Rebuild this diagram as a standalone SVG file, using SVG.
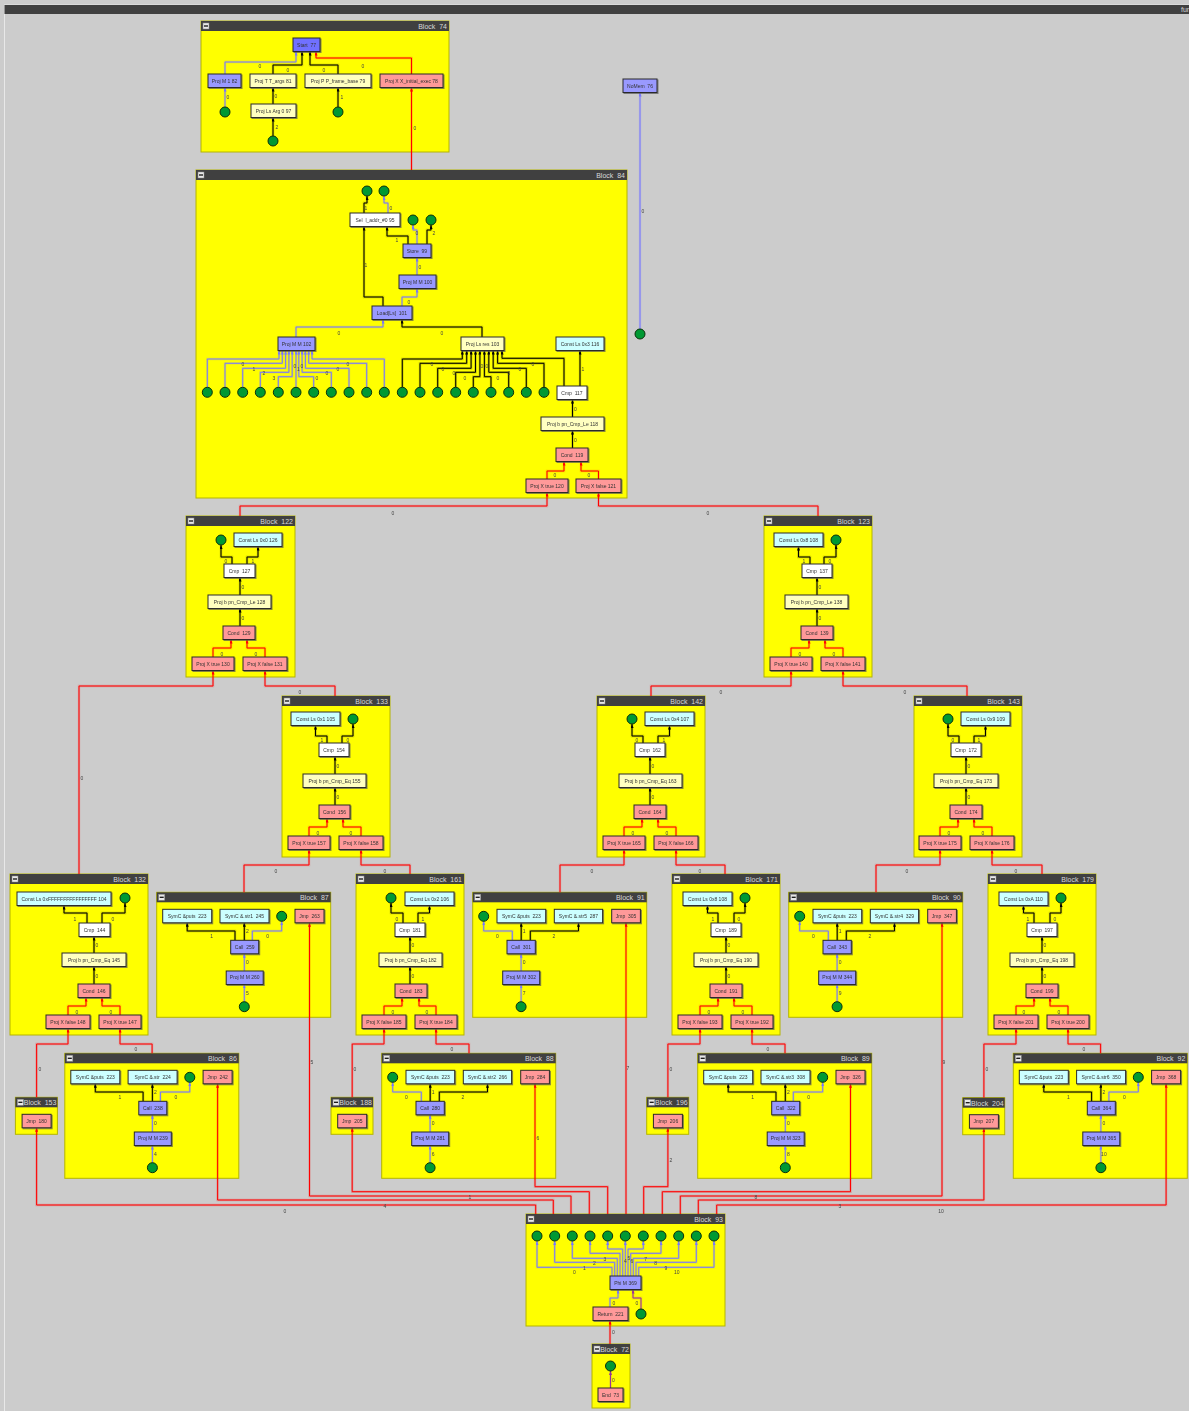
<svg xmlns="http://www.w3.org/2000/svg" width="1189" height="1411" viewBox="0 0 1189 1411">
<style>
text{font-family:"Liberation Sans",Arial,sans-serif;white-space:pre}
.blk{fill:#ffff00;stroke:#b4b400;stroke-width:1}
.tb{fill:#404040}
.bt{font-size:7px;fill:#d8d8d8;text-anchor:end}
.n rect{stroke:#2a2a2a;stroke-width:1;filter:url(#ns)}
.n text{font-size:5px;fill:#333;text-anchor:middle}
.bl{fill:#9999ff}.st{fill:#6f6fff}.pk{fill:#ff9999}.ly{fill:#ffffc0}.cy{fill:#ccffff}.wh{fill:#ffffff}
.c{fill:#009933;stroke:#0a300a;stroke-width:1}
#edges path{fill:none}
.k{stroke:#000;marker-end:url(#ak)}
.u{stroke:#7777ff;marker-end:url(#au)}
.r{stroke:#ff0000;marker-end:url(#ar)}
.p{stroke:#993399;marker-end:url(#ap)}
.lb text{font-size:5px;fill:#444;text-anchor:middle}
</style>
<defs>
<filter id="ns" x="-10%" y="-20%" width="130%" height="160%"><feDropShadow dx="1" dy="1" stdDeviation="0.2" flood-color="#555" flood-opacity="0.7"/></filter>
<marker id="ak" viewBox="0 0 8 6" refX="8" refY="3" markerWidth="4" markerHeight="3" markerUnits="userSpaceOnUse" orient="auto"><path d="M0,0L8,3L0,6z" fill="#000"/></marker>
<marker id="au" viewBox="0 0 8 6" refX="8" refY="3" markerWidth="4" markerHeight="3" markerUnits="userSpaceOnUse" orient="auto"><path d="M0,0L8,3L0,6z" fill="#7777ff"/></marker>
<marker id="ar" viewBox="0 0 8 6" refX="8" refY="3" markerWidth="4" markerHeight="3" markerUnits="userSpaceOnUse" orient="auto"><path d="M0,0L8,3L0,6z" fill="#ff0000"/></marker>
<marker id="ap" viewBox="0 0 8 6" refX="8" refY="3" markerWidth="4" markerHeight="3" markerUnits="userSpaceOnUse" orient="auto"><path d="M0,0L8,3L0,6z" fill="#993399"/></marker>
<g id="ico"><rect x="2" y="2" width="6" height="6" fill="#e8e8e8" stroke="#888" stroke-width="0.5"/><path d="M3,5H7" stroke="#111" stroke-width="1.3"/></g>
</defs>

<rect width="1189" height="1411" fill="#cccccc"/>
<rect x="4.5" y="5" width="1190" height="1410" fill="#cccccc" stroke="#e8e8e8" stroke-width="1"/>
<rect x="4.5" y="5" width="1190" height="9" fill="#404040"/>
<text x="1181" y="12" style="font-size:7px;fill:#d8d8d8">fun</text>

<g id="blocks">
<g id="block74" transform="translate(201,21)"><rect class="blk" width="248" height="131"/><rect class="tb" width="248" height="10"/><use href="#ico"/><text class="bt" x="246" y="8">Block  74</text></g>
<g id="block84" transform="translate(196,170)"><rect class="blk" width="431" height="328"/><rect class="tb" width="431" height="10"/><use href="#ico"/><text class="bt" x="429" y="8">Block  84</text></g>
<g id="block122" transform="translate(186,516)"><rect class="blk" width="109" height="161"/><rect class="tb" width="109" height="10"/><use href="#ico"/><text class="bt" x="107" y="8">Block  122</text></g>
<g id="block123" transform="translate(764,516)"><rect class="blk" width="108" height="161"/><rect class="tb" width="108" height="10"/><use href="#ico"/><text class="bt" x="106" y="8">Block  123</text></g>
<g id="block133" transform="translate(282,696)"><rect class="blk" width="108" height="161"/><rect class="tb" width="108" height="10"/><use href="#ico"/><text class="bt" x="106" y="8">Block  133</text></g>
<g id="block142" transform="translate(597,696)"><rect class="blk" width="108" height="161"/><rect class="tb" width="108" height="10"/><use href="#ico"/><text class="bt" x="106" y="8">Block  142</text></g>
<g id="block143" transform="translate(914,696)"><rect class="blk" width="108" height="161"/><rect class="tb" width="108" height="10"/><use href="#ico"/><text class="bt" x="106" y="8">Block  143</text></g>
<g id="block132" transform="translate(10,874)"><rect class="blk" width="138" height="161"/><rect class="tb" width="138" height="10"/><use href="#ico"/><text class="bt" x="136" y="8">Block  132</text></g>
<g id="block161" transform="translate(356,874)"><rect class="blk" width="108" height="161"/><rect class="tb" width="108" height="10"/><use href="#ico"/><text class="bt" x="106" y="8">Block  161</text></g>
<g id="block171" transform="translate(672,874)"><rect class="blk" width="108" height="161"/><rect class="tb" width="108" height="10"/><use href="#ico"/><text class="bt" x="106" y="8">Block  171</text></g>
<g id="block179" transform="translate(988,874)"><rect class="blk" width="108" height="161"/><rect class="tb" width="108" height="10"/><use href="#ico"/><text class="bt" x="106" y="8">Block  179</text></g>
<g id="block87" transform="translate(156.7,892.3)"><rect class="blk" width="174" height="125"/><rect class="tb" width="174" height="10"/><use href="#ico"/><text class="bt" x="172" y="8">Block  87</text></g>
<g id="block91" transform="translate(472.7,892.3)"><rect class="blk" width="174" height="125"/><rect class="tb" width="174" height="10"/><use href="#ico"/><text class="bt" x="172" y="8">Block  91</text></g>
<g id="block90" transform="translate(788.7,892.3)"><rect class="blk" width="174" height="125"/><rect class="tb" width="174" height="10"/><use href="#ico"/><text class="bt" x="172" y="8">Block  90</text></g>
<g id="block86" transform="translate(64.8,1053.3)"><rect class="blk" width="174" height="125"/><rect class="tb" width="174" height="10"/><use href="#ico"/><text class="bt" x="172" y="8">Block  86</text></g>
<g id="block88" transform="translate(381.7,1053.3)"><rect class="blk" width="174" height="125"/><rect class="tb" width="174" height="10"/><use href="#ico"/><text class="bt" x="172" y="8">Block  88</text></g>
<g id="block89" transform="translate(697.7,1053.3)"><rect class="blk" width="174" height="125"/><rect class="tb" width="174" height="10"/><use href="#ico"/><text class="bt" x="172" y="8">Block  89</text></g>
<g id="block92" transform="translate(1013.3,1053.3)"><rect class="blk" width="174" height="125"/><rect class="tb" width="174" height="10"/><use href="#ico"/><text class="bt" x="172" y="8">Block  92</text></g>
<g id="block153" transform="translate(15.4,1097.3)"><rect class="blk" width="42" height="37"/><rect class="tb" width="42" height="10"/><use href="#ico"/><text class="bt" x="41" y="8">Block  153</text></g>
<g id="block188" transform="translate(331,1097.3)"><rect class="blk" width="42" height="37"/><rect class="tb" width="42" height="10"/><use href="#ico"/><text class="bt" x="41" y="8">Block  188</text></g>
<g id="block196" transform="translate(646.7,1097.3)"><rect class="blk" width="42" height="37"/><rect class="tb" width="42" height="10"/><use href="#ico"/><text class="bt" x="41" y="8">Block  196</text></g>
<g id="block204" transform="translate(962.7,1097.7)"><rect class="blk" width="42" height="37"/><rect class="tb" width="42" height="10"/><use href="#ico"/><text class="bt" x="41" y="8">Block  204</text></g>
<g id="block93" transform="translate(526,1214)"><rect class="blk" width="199" height="112"/><rect class="tb" width="199" height="10"/><use href="#ico"/><text class="bt" x="197" y="8">Block  93</text></g>
<g id="block72" transform="translate(592,1344)"><rect class="blk" width="38" height="64"/><rect class="tb" width="38" height="10"/><use href="#ico"/><text class="bt" x="37" y="8">Block  72</text></g>
</g>

<use href="#edges" stroke-width="2.4" opacity="0.22"/>
<g stroke-width="1">
<g id="edges">
<path class="u" d="M225,74V62H296V51.5"/>
<path class="k" d="M273,74V65H302V51.5"/>
<path class="k" d="M338,74V65H310V51.5"/>
<path class="r" d="M411.5,74V58H316V51.5"/>
<path class="u" d="M225,107V87.5"/>
<path class="k" d="M273,104V87.5"/>
<path class="k" d="M338,107V87.5"/>
<path class="k" d="M273,136V117.5"/>
<path class="r" d="M411.5,170V87.5"/>
<path class="u" d="M640,329V92.5"/>
<path class="k" d="M364,213V203H367V196"/>
<path class="u" d="M388,213V203H384V196"/>
<path class="u" d="M417,244V230H413V225"/>
<path class="k" d="M427,244V230H431V225"/>
<path class="k" d="M408,244V236H387V226.5"/>
<path class="u" d="M417,275V257.5"/>
<path class="k" d="M383,306V297H364V226.5"/>
<path class="u" d="M402,306V297H417V288.5"/>
<path class="u" d="M296,337V327H383V319.5"/>
<path class="k" d="M482,337V327H402V319.5"/>
<path class="k" d="M580,386V350.5"/>
<path class="k" d="M564,386V358.3H502V350.5"/>
<path class="k" d="M572.5,417V399.5"/>
<path class="k" d="M572.5,448V430.5"/>
<path class="r" d="M547,479V471H564V461.5"/>
<path class="r" d="M598.5,479V471H581V461.5"/>
<path class="u" d="M207.3,387.3V359H279V350.5"/>
<path class="u" d="M225,387.3V363.3H282.3V350.5"/>
<path class="u" d="M242.7,387.3V368.3H285.6V350.5"/>
<path class="u" d="M260.3,387.3V372.3H288.9V350.5"/>
<path class="u" d="M278.3,387.3V376.7H292.2V350.5"/>
<path class="u" d="M296,387.3V350.5"/>
<path class="u" d="M313.7,387.3V376.7H298.8V350.5"/>
<path class="u" d="M331.3,387.3V372.3H302.1V350.5"/>
<path class="u" d="M349,387.3V368.3H305.4V350.5"/>
<path class="u" d="M366.7,387.3V363.3H308.7V350.5"/>
<path class="u" d="M384.3,387.3V359H312V350.5"/>
<path class="k" d="M402.3,387.3V359H462.3V350.5"/>
<path class="k" d="M420,387.3V363.3H466.7V350.5"/>
<path class="k" d="M437.7,387.3V368.3H471.1V350.5"/>
<path class="k" d="M455.7,387.3V372.3H475.5V350.5"/>
<path class="k" d="M473.3,387.3V376.7H479.9V350.5"/>
<path class="k" d="M491,387.3V376.7H484.4V350.5"/>
<path class="k" d="M508.7,387.3V372.3H488.8V350.5"/>
<path class="k" d="M526.3,387.3V368.3H493.2V350.5"/>
<path class="k" d="M544,387.3V363.3H497.6V350.5"/>
<path class="r" d="M240,516V506H547V492.5"/>
<path class="r" d="M818,516V506H598.5V492.5"/>
<path class="k" d="M232,564V557H221V545"/>
<path class="k" d="M247,564V557H258V546.5"/>
<path class="k" d="M240,595V577.5"/>
<path class="k" d="M240,626V608.5"/>
<path class="r" d="M213,657V648H231V639.5"/>
<path class="r" d="M265,657V648H247V639.5"/>
<path class="k" d="M810,564V557H798.5V546.5"/>
<path class="k" d="M824,564V557H836V545"/>
<path class="k" d="M817,595V577.5"/>
<path class="k" d="M817,626V608.5"/>
<path class="r" d="M791,657V648H809V639.5"/>
<path class="r" d="M843,657V648H825V639.5"/>
<path class="r" d="M79,874V686H213V670.5"/>
<path class="r" d="M335,696V686H265V670.5"/>
<path class="r" d="M651,696V686H791V670.5"/>
<path class="r" d="M967,696V686H843V670.5"/>
<path class="k" d="M327,743V736H315.5V725.5"/>
<path class="k" d="M342,743V736H353V724"/>
<path class="k" d="M335,774V756.5"/>
<path class="k" d="M335,805V787.5"/>
<path class="r" d="M309,836V827H327V818.5"/>
<path class="r" d="M361,836V827H343V818.5"/>
<path class="k" d="M643,743V736H632V724"/>
<path class="k" d="M658,743V736H669.5V725.5"/>
<path class="k" d="M650,774V756.5"/>
<path class="k" d="M650,805V787.5"/>
<path class="r" d="M624,836V827H642V818.5"/>
<path class="r" d="M676,836V827H658V818.5"/>
<path class="k" d="M959,743V736H948V724"/>
<path class="k" d="M974,743V736H985.5V725.5"/>
<path class="k" d="M966,774V756.5"/>
<path class="k" d="M966,805V787.5"/>
<path class="r" d="M940,836V827H958V818.5"/>
<path class="r" d="M992,836V827H974V818.5"/>
<path class="r" d="M244,892.3V865H309V849.5"/>
<path class="r" d="M410,874V865H361V849.5"/>
<path class="r" d="M560,892.3V865H624V849.5"/>
<path class="r" d="M725,874V865H676V849.5"/>
<path class="r" d="M876,892.3V865H940V849.5"/>
<path class="r" d="M1042,874V865H992V849.5"/>
<path class="k" d="M87,923V913H64V905.5"/>
<path class="k" d="M102,923V913H125V903"/>
<path class="k" d="M94,953V936.5"/>
<path class="k" d="M94,984V966.5"/>
<path class="r" d="M68,1015V1006H86V997.5"/>
<path class="r" d="M120,1015V1006H102V997.5"/>
<path class="k" d="M403,923V913H391V903"/>
<path class="k" d="M418,923V913H429.5V905.5"/>
<path class="k" d="M410,953V936.5"/>
<path class="k" d="M410,984V966.5"/>
<path class="r" d="M384,1015V1006H402V997.5"/>
<path class="r" d="M436,1015V1006H419V997.5"/>
<path class="k" d="M718,923V913H707.5V905.5"/>
<path class="k" d="M734,923V913H745V903"/>
<path class="k" d="M726,953V936.5"/>
<path class="k" d="M726,984V966.5"/>
<path class="r" d="M700,1015V1006H718V997.5"/>
<path class="r" d="M752,1015V1006H734V997.5"/>
<path class="k" d="M1034,923V913H1023.5V905.5"/>
<path class="k" d="M1050,923V913H1061V903"/>
<path class="k" d="M1042,953V936.5"/>
<path class="k" d="M1042,984V966.5"/>
<path class="r" d="M1016,1015V1006H1034V997.5"/>
<path class="r" d="M1068,1015V1006H1050V997.5"/>
<path class="r" d="M36.6,1097.3V1044H68V1028.5"/>
<path class="r" d="M152.1,1053.3V1044H120V1028.5"/>
<path class="r" d="M352.2,1097.3V1044H384V1028.5"/>
<path class="r" d="M469,1053.3V1044H436V1028.5"/>
<path class="r" d="M667.9,1097.3V1044H700V1028.5"/>
<path class="r" d="M785,1053.3V1044H752V1028.5"/>
<path class="r" d="M983.9,1097.7V1044H1016V1028.5"/>
<path class="r" d="M1100.6,1053.3V1044H1068V1028.5"/>
<g transform="translate(156.7,892.3)"><path class="k" d="M78.3,48V38.7H30.5V30.5"/><path class="k" d="M87.6,48V30.5"/><path class="u" d="M95.6,48V38.7H125V29"/><path class="u" d="M87.6,78.7V61.5"/><path class="u" d="M87.6,109.4V92.2"/></g>
<g transform="translate(64.8,1053.3)"><path class="k" d="M78.3,48V38.7H30.5V30.5"/><path class="k" d="M87.6,48V30.5"/><path class="u" d="M95.6,48V38.7H125V29"/><path class="u" d="M87.6,78.7V61.5"/><path class="u" d="M87.6,109.4V92.2"/></g>
<g transform="translate(697.7,1053.3)"><path class="k" d="M78.3,48V38.7H30.5V30.5"/><path class="k" d="M87.6,48V30.5"/><path class="u" d="M95.6,48V38.7H125V29"/><path class="u" d="M87.6,78.7V61.5"/><path class="u" d="M87.6,109.4V92.2"/></g>
<g transform="translate(1013.3,1053.3)"><path class="k" d="M78.3,48V38.7H30.5V30.5"/><path class="k" d="M87.6,48V30.5"/><path class="u" d="M95.6,48V38.7H125V29"/><path class="u" d="M87.6,78.7V61.5"/><path class="u" d="M87.6,109.4V92.2"/></g>
<g transform="translate(472.7,892.3)"><path class="u" d="M39.6,48V38.7H11V29"/><path class="k" d="M48.5,48V30.5"/><path class="k" d="M57.6,48V38.7H105.8V30.5"/><path class="u" d="M48.4,78.7V61.5"/><path class="u" d="M48.4,109.4V92.2"/></g>
<g transform="translate(788.7,892.3)"><path class="u" d="M39.6,48V38.7H11V29"/><path class="k" d="M48.5,48V30.5"/><path class="k" d="M57.6,48V38.7H105.8V30.5"/><path class="u" d="M48.4,78.7V61.5"/><path class="u" d="M48.4,109.4V92.2"/></g>
<g transform="translate(381.7,1053.3)"><path class="u" d="M39.6,48V38.7H11V29"/><path class="k" d="M48.5,48V30.5"/><path class="k" d="M57.6,48V38.7H105.8V30.5"/><path class="u" d="M48.4,78.7V61.5"/><path class="u" d="M48.4,109.4V92.2"/></g>
<path class="r" d="M535.7,1214V1205H36.6V1127.8"/>
<path class="r" d="M553.3,1214V1200H217.6V1083.8"/>
<path class="r" d="M571,1214V1196H309.5V922.8"/>
<path class="r" d="M589.3,1214V1191.7H352.2V1127.8"/>
<path class="r" d="M607.7,1214V1186.7H535V1083.8"/>
<path class="r" d="M626,1214V922.8"/>
<path class="r" d="M643.7,1214V1186.7H667.9V1127.8"/>
<path class="r" d="M662.3,1214V1191.7H850.5V1083.8"/>
<path class="r" d="M680.3,1214V1196H942V922.8"/>
<path class="r" d="M698.3,1214V1200H983.9V1128.2"/>
<path class="r" d="M716.7,1214V1205H1166.1V1083.8"/>
<path class="u" d="M612,1276V1267.3H537V1241"/>
<path class="u" d="M614.7,1276V1262.3H554.7V1241"/>
<path class="u" d="M617.3,1276V1258.3H572.3V1241"/>
<path class="u" d="M620,1276V1253.3H590V1241"/>
<path class="u" d="M622.7,1276V1249H607.7V1241"/>
<path class="u" d="M625.3,1276V1241"/>
<path class="u" d="M628,1276V1249H643.3V1241"/>
<path class="u" d="M630.7,1276V1253.3H661V1241"/>
<path class="u" d="M633.3,1276V1258.3H678.7V1241"/>
<path class="u" d="M636,1276V1262.3H696.3V1241"/>
<path class="u" d="M638.7,1276V1267.3H714V1241"/>
<path class="u" d="M610,1307V1298H618V1289.5"/>
<path class="p" d="M641,1309V1298H633V1289.5"/>
<path class="r" d="M610,1344V1320.5"/>
<path class="p" d="M610.5,1388V1371"/>
</g>
</g>

<g id="edge-labels" class="lb">
<text x="260" y="68">0</text><text x="288" y="72">0</text><text x="324" y="72">0</text><text x="363" y="68">0</text>
<text x="228" y="99">0</text><text x="276" y="98">0</text><text x="342" y="99">1</text><text x="277" y="129">2</text><text x="415" y="130">0</text>
<text x="643" y="213">0</text>
<text x="366" y="210">1</text><text x="391" y="210">0</text><text x="417" y="235">0</text><text x="434" y="235">2</text><text x="397" y="242">1</text>
<text x="420" y="269">0</text><text x="366" y="267">1</text><text x="409" y="304">0</text><text x="339" y="335">0</text><text x="442" y="335">0</text>
<text x="583" y="371">1</text><text x="575.5" y="411">0</text><text x="575.5" y="442">0</text><text x="555" y="477">0</text><text x="589" y="477">0</text>
<text x="243" y="366">0</text><text x="254" y="371">1</text><text x="264" y="375">2</text><text x="274" y="380">3</text><text x="295" y="368">0</text><text x="302" y="368">0</text><text x="298.5" y="371">1</text><text x="317" y="380">0</text><text x="327" y="375">0</text><text x="338" y="371">0</text><text x="348" y="366">0</text>
<text x="432" y="366">0</text><text x="443" y="371">0</text><text x="454" y="375">0</text><text x="465" y="380">0</text><text x="482" y="368">0</text><text x="487" y="368">0</text><text x="498" y="380">0</text><text x="509" y="375">0</text><text x="520" y="371">0</text><text x="533" y="366">0</text>
<text x="393" y="515">0</text><text x="708" y="515">0</text>
<text x="226" y="563">0</text><text x="253" y="563">1</text><text x="243" y="589">0</text><text x="243" y="620">0</text><text x="222" y="656">0</text><text x="256" y="656">0</text>
<text x="804" y="563">1</text><text x="830" y="563">0</text><text x="820" y="589">0</text><text x="820" y="620">0</text><text x="800" y="656">0</text><text x="834" y="656">0</text>
<text x="82" y="780">0</text><text x="300" y="694">0</text><text x="721" y="694">0</text><text x="905" y="694">0</text>
<text x="322" y="742">1</text><text x="348" y="742">0</text><text x="338" y="768">0</text><text x="338" y="799">0</text><text x="318" y="835">0</text><text x="351" y="835">0</text>
<text x="637" y="742">0</text><text x="664" y="742">1</text><text x="653" y="768">0</text><text x="653" y="799">0</text><text x="633" y="835">0</text><text x="667" y="835">0</text>
<text x="953" y="742">0</text><text x="979" y="742">1</text><text x="969" y="768">0</text><text x="969" y="799">0</text><text x="949" y="835">0</text><text x="983" y="835">0</text>
<text x="276" y="873">0</text><text x="385" y="873">0</text><text x="592" y="873">0</text><text x="700" y="873">0</text><text x="907" y="873">0</text><text x="1016" y="873">0</text>
<text x="75" y="921">1</text><text x="113" y="921">0</text><text x="97" y="947">0</text><text x="97" y="978">0</text><text x="77" y="1014">0</text><text x="111" y="1014">0</text>
<text x="397" y="921">0</text><text x="423" y="921">1</text><text x="413" y="947">0</text><text x="413" y="978">0</text><text x="393" y="1014">0</text><text x="427" y="1014">0</text>
<text x="713" y="921">1</text><text x="739" y="921">0</text><text x="729" y="947">0</text><text x="729" y="978">0</text><text x="709" y="1014">0</text><text x="743" y="1014">0</text>
<text x="1028" y="921">1</text><text x="1055" y="921">0</text><text x="1045" y="947">0</text><text x="1045" y="978">0</text><text x="1024" y="1014">0</text><text x="1059" y="1014">0</text>
<text x="40" y="1071">0</text><text x="136" y="1051">0</text><text x="355" y="1071">0</text><text x="452" y="1051">0</text><text x="671" y="1071">0</text><text x="768" y="1051">0</text><text x="987" y="1071">0</text><text x="1084" y="1051">0</text>
<g transform="translate(156.7,892.3)"><text x="55" y="45.4">1</text><text x="90.6" y="40.7">2</text><text x="111" y="45.4">0</text><text x="90.6" y="71.4">0</text><text x="90.6" y="102.4">5</text></g>
<g transform="translate(64.8,1053.3)"><text x="55" y="45.4">1</text><text x="90.6" y="40.7">2</text><text x="111" y="45.4">0</text><text x="90.6" y="71.4">0</text><text x="90.6" y="102.4">4</text></g>
<g transform="translate(697.7,1053.3)"><text x="55" y="45.4">1</text><text x="90.6" y="40.7">2</text><text x="111" y="45.4">0</text><text x="90.6" y="71.4">0</text><text x="90.6" y="102.4">8</text></g>
<g transform="translate(1013.3,1053.3)"><text x="55" y="45.4">1</text><text x="90.6" y="40.7">2</text><text x="111" y="45.4">0</text><text x="90.6" y="71.4">0</text><text x="90.6" y="102.4">10</text></g>
<g transform="translate(472.7,892.3)"><text x="24.6" y="45.4">0</text><text x="51.5" y="40.7">1</text><text x="81.3" y="45.4">2</text><text x="51.4" y="71.4">0</text><text x="51.4" y="102.4">7</text></g>
<g transform="translate(788.7,892.3)"><text x="24.6" y="45.4">0</text><text x="51.5" y="40.7">1</text><text x="81.3" y="45.4">2</text><text x="51.4" y="71.4">0</text><text x="51.4" y="102.4">9</text></g>
<g transform="translate(381.7,1053.3)"><text x="24.6" y="45.4">0</text><text x="51.5" y="40.7">1</text><text x="81.3" y="45.4">2</text><text x="51.4" y="71.4">0</text><text x="51.4" y="102.4">6</text></g>
<text x="285" y="1213">0</text><text x="385" y="1208">4</text><text x="312" y="1064">5</text><text x="470" y="1199">1</text><text x="538" y="1140">6</text><text x="628" y="1070">7</text><text x="671" y="1162">2</text><text x="756" y="1199">8</text><text x="944" y="1064">9</text><text x="840" y="1208">3</text><text x="941" y="1213">10</text>
<text x="574.3" y="1274.3">0</text><text x="584.3" y="1270.3">1</text><text x="594.3" y="1265.3">2</text><text x="605" y="1261.3">3</text><text x="625.5" y="1263">4</text><text x="629" y="1259.7">5</text><text x="632" y="1263">6</text><text x="645.7" y="1261.3">7</text><text x="655.7" y="1265.3">8</text><text x="666" y="1270.3">9</text><text x="676.7" y="1274.3">10</text>
<text x="614" y="1305">0</text><text x="637" y="1305">0</text><text x="613.5" y="1334">0</text><text x="613.5" y="1382">0</text>
</g>

<g id="nodes">
<g id="n77" class="n"><rect class="st" x="293" y="38" width="27" height="13.5"/><text x="306.5" y="46.5">Start  77</text></g>
<g id="n82" class="n"><rect class="bl" x="208" y="74" width="33" height="13.5"/><text x="224.5" y="82.5">Proj M 1 82</text></g>
<g id="n81" class="n"><rect class="ly" x="250" y="74" width="46" height="13.5"/><text x="273" y="82.5">Proj T T_args 81</text></g>
<g id="n79" class="n"><rect class="ly" x="305" y="74" width="66" height="13.5"/><text x="338" y="82.5">Proj P P_frame_base 79</text></g>
<g id="n78" class="n"><rect class="pk" x="380" y="74" width="63" height="13.5"/><text x="411.5" y="82.5">Proj X X_initial_exec 78</text></g>
<g id="n97" class="n"><rect class="ly" x="251" y="104" width="45" height="13.5"/><text x="273.5" y="112.5">Proj Ls Arg 0 97</text></g>
<circle id="c74a" class="c" cx="225" cy="112" r="5"/>
<circle id="c74b" class="c" cx="338" cy="112" r="5"/>
<circle id="c74c" class="c" cx="273" cy="141" r="5"/>
<g id="n76" class="n"><rect class="bl" x="623" y="79" width="34" height="13.5"/><text x="640" y="87.5">NoMem  76</text></g>
<circle id="c76" class="c" cx="640" cy="334" r="5"/>
<circle id="c84a" class="c" cx="367" cy="191" r="5"/>
<circle id="c84b" class="c" cx="384" cy="191" r="5"/>
<circle id="c84c" class="c" cx="413" cy="220" r="5"/>
<circle id="c84d" class="c" cx="431" cy="220" r="5"/>
<g id="n95" class="n"><rect class="wh" x="350" y="213" width="50" height="13.5"/><text x="375" y="221.5">Sel  l_addr_#0 95</text></g>
<g id="n99" class="n"><rect class="bl" x="403" y="244" width="28" height="13.5"/><text x="417" y="252.5">Store  99</text></g>
<g id="n100" class="n"><rect class="bl" x="399" y="275" width="37" height="13.5"/><text x="417.5" y="283.5">Proj M M 100</text></g>
<g id="n101" class="n"><rect class="bl" x="372" y="306" width="40" height="13.5"/><text x="392" y="314.5">Load[Ls]  101</text></g>
<g id="n102" class="n"><rect class="bl" x="278" y="337" width="37" height="13.5"/><text x="296.5" y="345.5">Proj M M 102</text></g>
<g id="n103" class="n"><rect class="ly" x="461" y="337" width="43" height="13.5"/><text x="482.5" y="345.5">Proj Ls res 103</text></g>
<g id="n116" class="n"><rect class="cy" x="556" y="337" width="48" height="13.5"/><text x="580" y="345.5">Const Ls 0x3 116</text></g>
<g id="n117" class="n"><rect class="wh" x="557" y="386" width="30" height="13.5"/><text x="572" y="394.5">Cmp  117</text></g>
<g id="n118" class="n"><rect class="ly" x="541" y="417" width="63" height="13.5"/><text x="572.5" y="425.5">Proj b pn_Cmp_Le 118</text></g>
<g id="n119" class="n"><rect class="pk" x="556" y="448" width="32" height="13.5"/><text x="572" y="456.5">Cond  119</text></g>
<g id="n120" class="n"><rect class="pk" x="526" y="479" width="42" height="13.5"/><text x="547" y="487.5">Proj X true 120</text></g>
<g id="n121" class="n"><rect class="pk" x="576" y="479" width="45" height="13.5"/><text x="598.5" y="487.5">Proj X false 121</text></g>
<g id="c84row" class="c">
<circle cx="207.3" cy="392.3" r="5"/><circle cx="225" cy="392.3" r="5"/><circle cx="242.7" cy="392.3" r="5"/><circle cx="260.3" cy="392.3" r="5"/><circle cx="278.3" cy="392.3" r="5"/><circle cx="296" cy="392.3" r="5"/><circle cx="313.7" cy="392.3" r="5"/><circle cx="331.3" cy="392.3" r="5"/><circle cx="349" cy="392.3" r="5"/><circle cx="366.7" cy="392.3" r="5"/><circle cx="384.3" cy="392.3" r="5"/>
<circle cx="402.3" cy="392.3" r="5"/><circle cx="420" cy="392.3" r="5"/><circle cx="437.7" cy="392.3" r="5"/><circle cx="455.7" cy="392.3" r="5"/><circle cx="473.3" cy="392.3" r="5"/><circle cx="491" cy="392.3" r="5"/><circle cx="508.7" cy="392.3" r="5"/><circle cx="526.3" cy="392.3" r="5"/><circle cx="544" cy="392.3" r="5"/>
</g>
<circle id="c122" class="c" cx="221" cy="540" r="5"/>
<g id="n126" class="n"><rect class="cy" x="234" y="533" width="48" height="13.5"/><text x="258" y="541.5">Const Ls 0x0 126</text></g>
<g id="n127" class="n"><rect class="wh" x="224" y="564" width="31" height="13.5"/><text x="239.5" y="572.5">Cmp  127</text></g>
<g id="n128" class="n"><rect class="ly" x="208" y="595" width="63" height="13.5"/><text x="239.5" y="603.5">Proj b pn_Cmp_Le 128</text></g>
<g id="n129" class="n"><rect class="pk" x="223" y="626" width="32" height="13.5"/><text x="239" y="634.5">Cond  129</text></g>
<g id="n130" class="n"><rect class="pk" x="192" y="657" width="42" height="13.5"/><text x="213" y="665.5">Proj X true 130</text></g>
<g id="n131" class="n"><rect class="pk" x="243" y="657" width="44" height="13.5"/><text x="265" y="665.5">Proj X false 131</text></g>
<circle id="c123" class="c" cx="836" cy="540" r="5"/>
<g id="n108a" class="n"><rect class="cy" x="774" y="533" width="49" height="13.5"/><text x="798.5" y="541.5">Const Ls 0x8 108</text></g>
<g id="n137" class="n"><rect class="wh" x="802" y="564" width="30" height="13.5"/><text x="817" y="572.5">Cmp  137</text></g>
<g id="n138" class="n"><rect class="ly" x="785" y="595" width="63" height="13.5"/><text x="816.5" y="603.5">Proj b pn_Cmp_Le 138</text></g>
<g id="n139" class="n"><rect class="pk" x="801" y="626" width="32" height="13.5"/><text x="817" y="634.5">Cond  139</text></g>
<g id="n140" class="n"><rect class="pk" x="770" y="657" width="42" height="13.5"/><text x="791" y="665.5">Proj X true 140</text></g>
<g id="n141" class="n"><rect class="pk" x="821" y="657" width="44" height="13.5"/><text x="843" y="665.5">Proj X false 141</text></g>
<circle id="c133" class="c" cx="353" cy="719" r="5"/>
<g id="n105" class="n"><rect class="cy" x="291" y="712" width="49" height="13.5"/><text x="315.5" y="720.5">Const Ls 0x1 105</text></g>
<g id="n154" class="n"><rect class="wh" x="319" y="743" width="30" height="13.5"/><text x="334" y="751.5">Cmp  154</text></g>
<g id="n155" class="n"><rect class="ly" x="303" y="774" width="63" height="13.5"/><text x="334.5" y="782.5">Proj b pn_Cmp_Eq 155</text></g>
<g id="n156" class="n"><rect class="pk" x="319" y="805" width="31" height="13.5"/><text x="334.5" y="813.5">Cond  156</text></g>
<g id="n157" class="n"><rect class="pk" x="288" y="836" width="42" height="13.5"/><text x="309" y="844.5">Proj X true 157</text></g>
<g id="n158" class="n"><rect class="pk" x="339" y="836" width="44" height="13.5"/><text x="361" y="844.5">Proj X false 158</text></g>
<circle id="c142" class="c" cx="632" cy="719" r="5"/>
<g id="n107" class="n"><rect class="cy" x="645" y="712" width="49" height="13.5"/><text x="669.5" y="720.5">Const Ls 0x4 107</text></g>
<g id="n162" class="n"><rect class="wh" x="635" y="743" width="30" height="13.5"/><text x="650" y="751.5">Cmp  162</text></g>
<g id="n163" class="n"><rect class="ly" x="619" y="774" width="63" height="13.5"/><text x="650.5" y="782.5">Proj b pn_Cmp_Eq 163</text></g>
<g id="n164" class="n"><rect class="pk" x="634" y="805" width="32" height="13.5"/><text x="650" y="813.5">Cond  164</text></g>
<g id="n165" class="n"><rect class="pk" x="603" y="836" width="42" height="13.5"/><text x="624" y="844.5">Proj X true 165</text></g>
<g id="n166" class="n"><rect class="pk" x="654" y="836" width="44" height="13.5"/><text x="676" y="844.5">Proj X false 166</text></g>
<circle id="c143" class="c" cx="948" cy="719" r="5"/>
<g id="n109" class="n"><rect class="cy" x="961" y="712" width="49" height="13.5"/><text x="985.5" y="720.5">Const Ls 0x9 109</text></g>
<g id="n172" class="n"><rect class="wh" x="951" y="743" width="30" height="13.5"/><text x="966" y="751.5">Cmp  172</text></g>
<g id="n173" class="n"><rect class="ly" x="934" y="774" width="64" height="13.5"/><text x="966" y="782.5">Proj b pn_Cmp_Eq 173</text></g>
<g id="n174" class="n"><rect class="pk" x="950" y="805" width="32" height="13.5"/><text x="966" y="813.5">Cond  174</text></g>
<g id="n175" class="n"><rect class="pk" x="919" y="836" width="42" height="13.5"/><text x="940" y="844.5">Proj X true 175</text></g>
<g id="n176" class="n"><rect class="pk" x="970" y="836" width="44" height="13.5"/><text x="992" y="844.5">Proj X false 176</text></g>
<circle id="c132" class="c" cx="125" cy="898" r="5"/>
<g id="n104" class="n"><rect class="cy" x="17" y="892" width="94" height="13.5"/><text x="64" y="900.5">Const Ls 0xFFFFFFFFFFFFFFFF 104</text></g>
<g id="n144" class="n"><rect class="wh" x="79" y="923" width="31" height="13.5"/><text x="94.5" y="931.5">Cmp  144</text></g>
<g id="n145" class="n"><rect class="ly" x="62" y="953" width="64" height="13.5"/><text x="94" y="961.5">Proj b pn_Cmp_Eq 145</text></g>
<g id="n146" class="n"><rect class="pk" x="78" y="984" width="32" height="13.5"/><text x="94" y="992.5">Cond  146</text></g>
<g id="n148" class="n"><rect class="pk" x="46" y="1015" width="44" height="13.5"/><text x="68" y="1023.5">Proj X false 148</text></g>
<g id="n147" class="n"><rect class="pk" x="99" y="1015" width="42" height="13.5"/><text x="120" y="1023.5">Proj X true 147</text></g>
<circle id="c161" class="c" cx="391" cy="898" r="5"/>
<g id="n106" class="n"><rect class="cy" x="405" y="892" width="49" height="13.5"/><text x="429.5" y="900.5">Const Ls 0x2 106</text></g>
<g id="n181" class="n"><rect class="wh" x="395" y="923" width="30" height="13.5"/><text x="410" y="931.5">Cmp  181</text></g>
<g id="n182" class="n"><rect class="ly" x="379" y="953" width="63" height="13.5"/><text x="410.5" y="961.5">Proj b pn_Cmp_Eq 182</text></g>
<g id="n183" class="n"><rect class="pk" x="395" y="984" width="32" height="13.5"/><text x="411" y="992.5">Cond  183</text></g>
<g id="n185" class="n"><rect class="pk" x="362" y="1015" width="44" height="13.5"/><text x="384" y="1023.5">Proj X false 185</text></g>
<g id="n184" class="n"><rect class="pk" x="415" y="1015" width="42" height="13.5"/><text x="436" y="1023.5">Proj X true 184</text></g>
<circle id="c171" class="c" cx="745" cy="898" r="5"/>
<g id="n108b" class="n"><rect class="cy" x="683" y="892" width="49" height="13.5"/><text x="707.5" y="900.5">Const Ls 0x8 108</text></g>
<g id="n189" class="n"><rect class="wh" x="711" y="923" width="30" height="13.5"/><text x="726" y="931.5">Cmp  189</text></g>
<g id="n190" class="n"><rect class="ly" x="694" y="953" width="64" height="13.5"/><text x="726" y="961.5">Proj b pn_Cmp_Eq 190</text></g>
<g id="n191" class="n"><rect class="pk" x="710" y="984" width="32" height="13.5"/><text x="726" y="992.5">Cond  191</text></g>
<g id="n193" class="n"><rect class="pk" x="678" y="1015" width="44" height="13.5"/><text x="700" y="1023.5">Proj X false 193</text></g>
<g id="n192" class="n"><rect class="pk" x="731" y="1015" width="42" height="13.5"/><text x="752" y="1023.5">Proj X true 192</text></g>
<circle id="c179" class="c" cx="1061" cy="898" r="5"/>
<g id="n110" class="n"><rect class="cy" x="999" y="892" width="49" height="13.5"/><text x="1023.5" y="900.5">Const Ls 0xA 110</text></g>
<g id="n197" class="n"><rect class="wh" x="1027" y="923" width="30" height="13.5"/><text x="1042" y="931.5">Cmp  197</text></g>
<g id="n198" class="n"><rect class="ly" x="1010" y="953" width="64" height="13.5"/><text x="1042" y="961.5">Proj b pn_Cmp_Eq 198</text></g>
<g id="n199" class="n"><rect class="pk" x="1026" y="984" width="32" height="13.5"/><text x="1042" y="992.5">Cond  199</text></g>
<g id="n201" class="n"><rect class="pk" x="994" y="1015" width="44" height="13.5"/><text x="1016" y="1023.5">Proj X false 201</text></g>
<g id="n200" class="n"><rect class="pk" x="1047" y="1015" width="42" height="13.5"/><text x="1068" y="1023.5">Proj X true 200</text></g>
<g transform="translate(156.7,892.3)">
<g id="n223_87" class="n"><rect class="cy" x="6" y="17" width="49" height="13.5"/><text x="30.5" y="25.5">SymC &amp;puts  223</text></g>
<g id="n245" class="n"><rect class="cy" x="63.3" y="17" width="49" height="13.5"/><text x="87.8" y="25.5">SymC &amp;.str1  245</text></g>
<circle id="c87a" class="c" cx="125" cy="24" r="5"/>
<g id="n263" class="n"><rect class="pk" x="138.3" y="17" width="29" height="13.5"/><text x="152.8" y="25.5">Jmp  263</text></g>
<g id="n259" class="n"><rect class="bl" x="74" y="48" width="28" height="13.5"/><text x="88" y="56.5">Call  259</text></g>
<g id="n260" class="n"><rect class="bl" x="69.5" y="78.7" width="37" height="13.5"/><text x="88" y="87.2">Proj M M 260</text></g>
<circle id="c87b" class="c" cx="87.6" cy="114.4" r="5"/>
</g>
<g transform="translate(64.8,1053.3)">
<g id="n223_86" class="n"><rect class="cy" x="6" y="17" width="49" height="13.5"/><text x="30.5" y="25.5">SymC &amp;puts  223</text></g>
<g id="n224" class="n"><rect class="cy" x="63.3" y="17" width="49" height="13.5"/><text x="87.8" y="25.5">SymC &amp;.str  224</text></g>
<circle id="c86a" class="c" cx="125" cy="24" r="5"/>
<g id="n242" class="n"><rect class="pk" x="138.3" y="17" width="29" height="13.5"/><text x="152.8" y="25.5">Jmp  242</text></g>
<g id="n238" class="n"><rect class="bl" x="74" y="48" width="28" height="13.5"/><text x="88" y="56.5">Call  238</text></g>
<g id="n239" class="n"><rect class="bl" x="69.5" y="78.7" width="37" height="13.5"/><text x="88" y="87.2">Proj M M 239</text></g>
<circle id="c86b" class="c" cx="87.6" cy="114.4" r="5"/>
</g>
<g transform="translate(697.7,1053.3)">
<g id="n223_89" class="n"><rect class="cy" x="6" y="17" width="49" height="13.5"/><text x="30.5" y="25.5">SymC &amp;puts  223</text></g>
<g id="n308" class="n"><rect class="cy" x="63.3" y="17" width="49" height="13.5"/><text x="87.8" y="25.5">SymC &amp;.str3  308</text></g>
<circle id="c89a" class="c" cx="125" cy="24" r="5"/>
<g id="n326" class="n"><rect class="pk" x="138.3" y="17" width="29" height="13.5"/><text x="152.8" y="25.5">Jmp  326</text></g>
<g id="n322" class="n"><rect class="bl" x="74" y="48" width="28" height="13.5"/><text x="88" y="56.5">Call  322</text></g>
<g id="n323" class="n"><rect class="bl" x="69.5" y="78.7" width="37" height="13.5"/><text x="88" y="87.2">Proj M M 323</text></g>
<circle id="c89b" class="c" cx="87.6" cy="114.4" r="5"/>
</g>
<g transform="translate(1013.3,1053.3)">
<g id="n223_92" class="n"><rect class="cy" x="6" y="17" width="49" height="13.5"/><text x="30.5" y="25.5">SymC &amp;puts  223</text></g>
<g id="n350" class="n"><rect class="cy" x="63.3" y="17" width="49" height="13.5"/><text x="87.8" y="25.5">SymC &amp;.str6  350</text></g>
<circle id="c92a" class="c" cx="125" cy="24" r="5"/>
<g id="n368" class="n"><rect class="pk" x="138.3" y="17" width="29" height="13.5"/><text x="152.8" y="25.5">Jmp  368</text></g>
<g id="n364" class="n"><rect class="bl" x="74" y="48" width="28" height="13.5"/><text x="88" y="56.5">Call  364</text></g>
<g id="n365" class="n"><rect class="bl" x="69.5" y="78.7" width="37" height="13.5"/><text x="88" y="87.2">Proj M M 365</text></g>
<circle id="c92b" class="c" cx="87.6" cy="114.4" r="5"/>
</g>
<g transform="translate(472.7,892.3)">
<circle id="c91a" class="c" cx="11" cy="24" r="5"/>
<g id="n223_91" class="n"><rect class="cy" x="24.3" y="17" width="48.7" height="13.5"/><text x="48.65" y="25.5">SymC &amp;puts  223</text></g>
<g id="n287" class="n"><rect class="cy" x="81.6" y="17" width="48.3" height="13.5"/><text x="105.75" y="25.5">SymC &amp;.str5  287</text></g>
<g id="n305" class="n"><rect class="pk" x="139" y="17" width="28.7" height="13.5"/><text x="153.35" y="25.5">Jmp  305</text></g>
<g id="n301" class="n"><rect class="bl" x="34.3" y="48" width="28.3" height="13.5"/><text x="48.45" y="56.5">Call  301</text></g>
<g id="n302" class="n"><rect class="bl" x="30" y="78.7" width="37" height="13.5"/><text x="48.5" y="87.2">Proj M M 302</text></g>
<circle id="c91b" class="c" cx="48.4" cy="114.4" r="5"/>
</g>
<g transform="translate(788.7,892.3)">
<circle id="c90a" class="c" cx="11" cy="24" r="5"/>
<g id="n223_90" class="n"><rect class="cy" x="24.3" y="17" width="48.7" height="13.5"/><text x="48.65" y="25.5">SymC &amp;puts  223</text></g>
<g id="n329" class="n"><rect class="cy" x="81.6" y="17" width="48.3" height="13.5"/><text x="105.75" y="25.5">SymC &amp;.str4  329</text></g>
<g id="n347" class="n"><rect class="pk" x="139" y="17" width="28.7" height="13.5"/><text x="153.35" y="25.5">Jmp  347</text></g>
<g id="n343" class="n"><rect class="bl" x="34.3" y="48" width="28.3" height="13.5"/><text x="48.45" y="56.5">Call  343</text></g>
<g id="n344" class="n"><rect class="bl" x="30" y="78.7" width="37" height="13.5"/><text x="48.5" y="87.2">Proj M M 344</text></g>
<circle id="c90b" class="c" cx="48.4" cy="114.4" r="5"/>
</g>
<g transform="translate(381.7,1053.3)">
<circle id="c88a" class="c" cx="11" cy="24" r="5"/>
<g id="n223_88" class="n"><rect class="cy" x="24.3" y="17" width="48.7" height="13.5"/><text x="48.65" y="25.5">SymC &amp;puts  223</text></g>
<g id="n266" class="n"><rect class="cy" x="81.6" y="17" width="48.3" height="13.5"/><text x="105.75" y="25.5">SymC &amp;.str2  266</text></g>
<g id="n284" class="n"><rect class="pk" x="139" y="17" width="28.7" height="13.5"/><text x="153.35" y="25.5">Jmp  284</text></g>
<g id="n280" class="n"><rect class="bl" x="34.3" y="48" width="28.3" height="13.5"/><text x="48.45" y="56.5">Call  280</text></g>
<g id="n281" class="n"><rect class="bl" x="30" y="78.7" width="37" height="13.5"/><text x="48.5" y="87.2">Proj M M 281</text></g>
<circle id="c88b" class="c" cx="48.4" cy="114.4" r="5"/>
</g>
<g id="n180" class="n" transform="translate(15.4,1097.3)"><rect class="pk" x="6.7" y="17" width="29" height="13.5"/><text x="21.2" y="25.5">Jmp  180</text></g>
<g id="n205" class="n" transform="translate(331,1097.3)"><rect class="pk" x="6.7" y="17" width="29" height="13.5"/><text x="21.2" y="25.5">Jmp  205</text></g>
<g id="n206" class="n" transform="translate(646.7,1097.3)"><rect class="pk" x="6.7" y="17" width="29" height="13.5"/><text x="21.2" y="25.5">Jmp  206</text></g>
<g id="n207" class="n" transform="translate(962.7,1097.7)"><rect class="pk" x="6.7" y="17" width="29" height="13.5"/><text x="21.2" y="25.5">Jmp  207</text></g>
<g id="c93row" class="c">
<circle cx="537" cy="1236" r="5"/><circle cx="554.7" cy="1236" r="5"/><circle cx="572.3" cy="1236" r="5"/><circle cx="590" cy="1236" r="5"/><circle cx="607.7" cy="1236" r="5"/><circle cx="625.3" cy="1236" r="5"/><circle cx="643.3" cy="1236" r="5"/><circle cx="661" cy="1236" r="5"/><circle cx="678.7" cy="1236" r="5"/><circle cx="696.3" cy="1236" r="5"/><circle cx="714" cy="1236" r="5"/>
</g>
<g id="n369" class="n"><rect class="bl" x="610" y="1276" width="31" height="13.5"/><text x="625.5" y="1284.5">Phi M 369</text></g>
<g id="n221" class="n"><rect class="pk" x="593" y="1307" width="35" height="13.5"/><text x="610.5" y="1315.5">Return  221</text></g>
<circle id="c93b" class="c" cx="641" cy="1314" r="5"/>
<circle id="c72" class="c" cx="610.5" cy="1366" r="5"/>
<g id="n73" class="n"><rect class="pk" x="598" y="1388" width="25" height="13.5"/><text x="610.5" y="1396.5">End  73</text></g>
</g>
</svg>
